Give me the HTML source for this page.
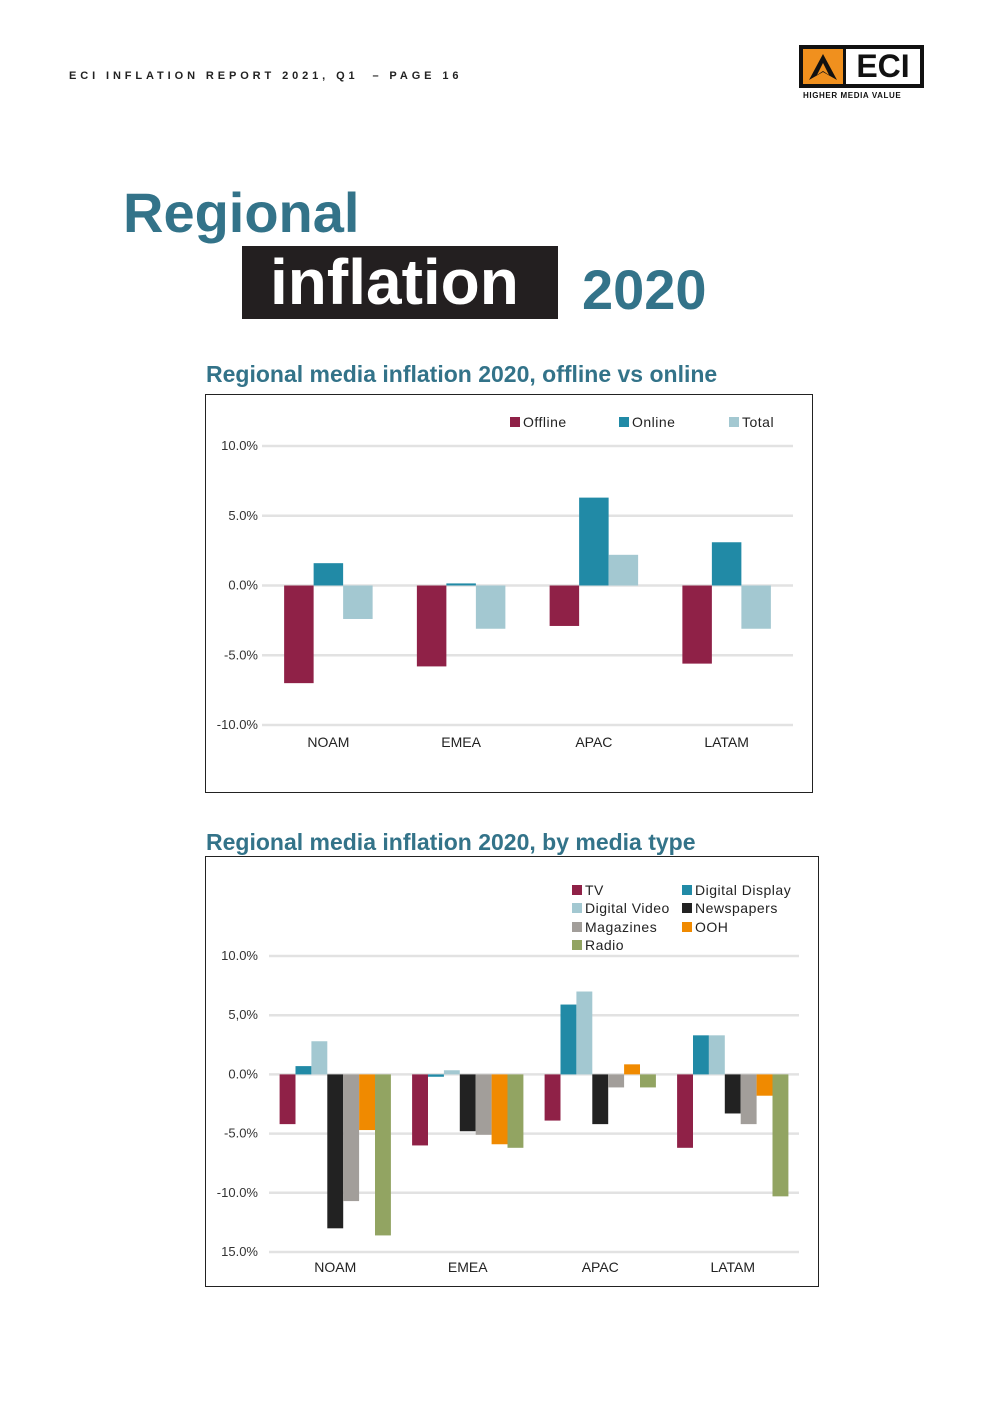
<!DOCTYPE html>
<html><head><meta charset="utf-8"><style>
body{margin:0;background:#fff;font-family:"Liberation Sans",sans-serif}
#page{position:relative;width:992px;height:1403px;overflow:hidden;background:#fff}
.abs{position:absolute}
</style></head><body>
<div id="page">
<div class="abs" style="left:69px;top:70px;font-size:11px;font-weight:bold;letter-spacing:3.9px;color:#222">ECI INFLATION REPORT 2021, Q1 &nbsp;– PAGE 16</div>
<div class="abs" style="left:799px;top:45px;width:125px;height:43px;background:#111">
 <div class="abs" style="left:4px;top:4px;width:40px;height:35px;background:#f0901e"></div>
 <svg class="abs" style="left:8px;top:7px" width="32" height="30" viewBox="0 0 32 30"><polygon points="16,2 30,28 16,20 2,28" fill="#111"/><polygon points="16,11 22,23 16,19 10,23" fill="#f0901e"/></svg>
 <div class="abs" style="left:47px;top:4px;width:74px;height:35px;background:#fff;color:#111;font-weight:bold;font-size:32px;line-height:35px;text-align:center">ECI</div>
</div>
<div class="abs" style="left:803px;top:91px;font-size:8px;font-weight:bold;color:#111;letter-spacing:0.6px">HIGHER MEDIA VALUE</div>
<div class="abs" style="left:123px;top:180px;font-size:56px;font-weight:bold;color:#337389">Regional</div>
<div class="abs" style="left:242px;top:246px;width:316px;height:73px;background:#231f20;color:#fff;font-size:64px;font-weight:bold;line-height:73px;text-indent:28px">inflation</div>
<div class="abs" style="left:582px;top:257px;font-size:56px;font-weight:bold;color:#337389">2020</div>
<div class="abs" style="left:206px;top:361px;font-size:23px;font-weight:bold;color:#337389">Regional media inflation 2020, offline vs online</div>
<div class="abs" style="left:206px;top:829px;font-size:23px;font-weight:bold;color:#337389">Regional media inflation 2020, by media type</div>
<svg class="abs" id="c1" style="left:0;top:0" width="992" height="1403"></svg>
</div>
<script>
const categories1=["NOAM","EMEA","APAC","LATAM"];
const offline=[-7.0,-5.8,-2.9,-5.6];
const online=[1.6,0.15,6.3,3.1];
const total=[-2.4,-3.1,2.2,-3.1];
const ticks1=[10,5,0,-5,-10];
const tickLabels1=["10.0%","5.0%","0.0%","-5.0%","-10.0%"];
const series1Names=["Offline","Online","Total"];

const categories2=["NOAM","EMEA","APAC","LATAM"];
const tv=[-4.2,-6.0,-3.9,-6.2];
const digitalDisplay=[0.7,-0.2,5.9,3.3];
const digitalVideo=[2.8,0.35,7.0,3.3];
const newspapers=[-13.0,-4.8,-4.2,-3.3];
const magazines=[-10.7,-5.1,-1.1,-4.2];
const ooh=[-4.7,-5.9,0.85,-1.8];
const radio=[-13.6,-6.2,-1.1,-10.3];
const ticks2=[10,5,0,-5,-10,-15];
const tickLabels2=["10.0%","5,0%","0.0%","-5.0%","-10.0%","15.0%"];
const series2Names=["TV","Digital Display","Digital Video","Newspapers","Magazines","OOH","Radio"];

const NS="http://www.w3.org/2000/svg";
const svg=document.getElementById('c1');
function mk(tag,attrs,parent){const e=document.createElementNS(NS,tag);for(const k in attrs)e.setAttribute(k,attrs[k]);(parent||svg).appendChild(e);return e;}

function drawChart(cfg){
 const g=mk('g',{});
 
 
 const fr=mk('rect',{x:cfg.frame[0]+0.5,y:cfg.frame[1]+0.5,width:cfg.frame[2],height:cfg.frame[3],fill:'none',stroke:'#222','stroke-width':1},g);
 
 
 const y=v=>cfg.y0-(v-cfg.vmin)/(cfg.vmax-cfg.vmin)*(cfg.y0-cfg.y1);
 cfg.ticks.forEach((t,i)=>{
  const l=mk('line',{x1:cfg.x0,x2:cfg.x1,y1:y(t),y2:y(t),stroke:'#e2e2e2','stroke-width':2.5},g);
  
  
  const tx=mk('text',{x:cfg.x0-cfg.lblOff,y:y(t)+4,'text-anchor':'end','font-size':13,fill:'#333'},g);
  
  
  tx.textContent=cfg.tickLabels[i];
 });
 const band=(cfg.x1-cfg.x0)/cfg.cats.length;
 const n=cfg.series.length;
 cfg.cats.forEach((c,ci)=>{
  const cx=cfg.x0+band*(ci+0.5);
  cfg.series.forEach((s,si)=>{
   const v=s[ci];
   const bx=cx-cfg.bw*n/2+si*cfg.bw;
   const r=mk('rect',{x:bx,y:Math.min(y(v),y(0)),width:cfg.bw,height:Math.abs(y(v)-y(0)),fill:cfg.colors[si]},g);
   
   
  });
  const t=mk('text',{x:cx,y:cfg.catY,'text-anchor':'middle','font-size':14,fill:'#222'},g);
  
  
  t.textContent=c;
 });
 cfg.legend.forEach((p,i)=>{
  const r=mk('rect',{x:p[0],y:p[1]-10,width:10,height:10,fill:cfg.colors[i]},g);
  
  
  const t=mk('text',{x:p[0]+13,y:p[1],'font-size':14,fill:'#222','letter-spacing':0.5},g);
  
  
  t.textContent=cfg.names[i];
 });
}
drawChart({name:'chart1-plot',frame:[205,394,607,398],x0:262,x1:793,y0:725,y1:446,vmin:-10,vmax:10,lblOff:4,
 ticks:ticks1,tickLabels:tickLabels1,cats:categories1,series:[offline,online,total],names:series1Names,
 colors:['#8f2147','#218aa6','#a3c8d1'],bw:29.5,catY:747,legend:[[510,427],[619,427],[729,427]]});
drawChart({name:'chart2-plot',frame:[205,856,613,430],x0:269,x1:799,y0:1252,y1:956,vmin:-15,vmax:10,lblOff:11,
 ticks:ticks2,tickLabels:tickLabels2,cats:categories2,series:[tv,digitalDisplay,digitalVideo,newspapers,magazines,ooh,radio],names:series2Names,
 colors:['#8f2147','#218aa6','#a3c8d1','#222222','#a29e9a','#f08a00','#92a462'],bw:15.9,catY:1272,
 legend:[[572,895],[682,895],[572,913],[682,913],[572,932],[682,932],[572,950]]});
</script>
</body></html>
